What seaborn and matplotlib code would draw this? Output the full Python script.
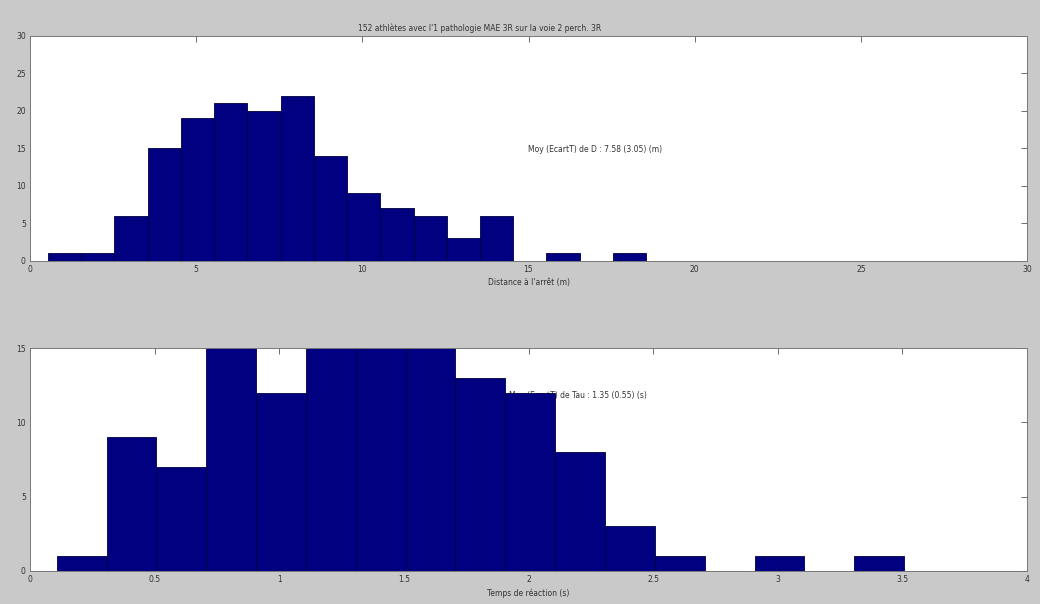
import numpy as np
import pandas as pd
import seaborn as sns
import matplotlib
matplotlib.use("Agg")
import matplotlib.pyplot as plt

# Stopping distance histogram (18 bins of 1 m starting at 0.54 m)
dist_start = 0.54
dist_width = 1.0
dist_counts = [1, 1, 6, 15, 19, 21, 20, 22, 14, 9, 7, 6, 3, 6, 0, 1, 0, 1]

# Reaction time histogram (17 bins of 0.2 s starting at 0.107 s)
tau_start = 0.107
tau_width = 0.2
tau_counts = [1, 9, 7, 18, 12, 21, 24, 21, 13, 12, 8, 3, 1, 0, 1, 0, 1]

title_text = "152 athlètes avec l'1 pathologie MAE 3R sur la voie 2 perch. 3R"
dist_label = "Distance à l'arrêt (m)"
tau_label = "Temps de réaction (s)"
dist_note = "Moy (EcartT) de D : 7.58 (3.05) (m)"
tau_note = "Moy (EcartT) de Tau : 1.35 (0.55) (s)"

dist_ticks = [0, 5, 10, 15, 20, 25, 30]
dist_yticks = [0, 5, 10, 15, 20, 25, 30]
tau_ticks = [0, 0.5, 1, 1.5, 2, 2.5, 3, 3.5, 4]
tau_yticks = [0, 5, 10, 15]

sns.set_theme(style="white")
plt.rcParams['font.family'] = ['DejaVu Sans']

BG = "#c9c9c9"
BAR = "#000080"

fig = plt.figure(figsize=(10.4, 6.04), dpi=100, facecolor=BG)
W, H = 1040, 604


def axes_px(left, top, right, bottom):
    return fig.add_axes([left / W, 1 - bottom / H, (right - left) / W, (bottom - top) / H])


ax1 = axes_px(30, 36, 1027, 261)
ax2 = axes_px(30, 348, 1027, 571)


def draw_hist(ax, start, width, counts):
    n = len(counts)
    edges = [start + width * k for k in range(n + 1)]
    centers = [(edges[k] + edges[k + 1]) / 2 for k in range(n)]
    df = pd.DataFrame({"x": centers, "w": counts})
    sns.histplot(data=df, x="x", weights="w", bins=edges, ax=ax,
                 color=BAR, alpha=1.0, edgecolor="#000040", linewidth=0.6,
                 zorder=2)


draw_hist(ax1, dist_start, dist_width, dist_counts)
draw_hist(ax2, tau_start, tau_width, tau_counts)

for ax, xt, yt, xl, yl, lab in [
    (ax1, dist_ticks, dist_yticks, (0, 30), (0, 30), dist_label),
    (ax2, tau_ticks, tau_yticks, (0, 4), (0, 15), tau_label),
]:
    ax.set_facecolor("white")
    ax.set_xlim(*xl)
    ax.set_ylim(*yl)
    ax.set_xticks(xt)
    ax.set_yticks(yt)
    ax.set_xticklabels([f"{v:g}" for v in xt])
    ax.set_yticklabels([f"{v:g}" for v in yt])
    ax.tick_params(direction="in", length=4, width=0.6, colors="#555555",
                   labelsize=5.5, labelcolor="#333333", top=True, right=True,
                   pad=3)
    ax.set_ylabel("")
    ax.set_xlabel(lab, fontsize=5.5, color="#333333", labelpad=3)
    for sp in ax.spines.values():
        sp.set_color("#777777")
        sp.set_linewidth(0.7)

ax1.text(15.0, 14.9, dist_note, fontsize=5.5, color="#333333",
         va="center", ha="left", zorder=1)
ax2.text(1.92, 11.8, tau_note, fontsize=5.5, color="#333333",
         va="center", ha="left", zorder=1)

fig.text(480 / W, 1 - 28 / H, title_text, fontsize=5.5, color="#333333",
         ha="center", va="center")

fig.savefig("out.png", dpi=100, facecolor=BG)
